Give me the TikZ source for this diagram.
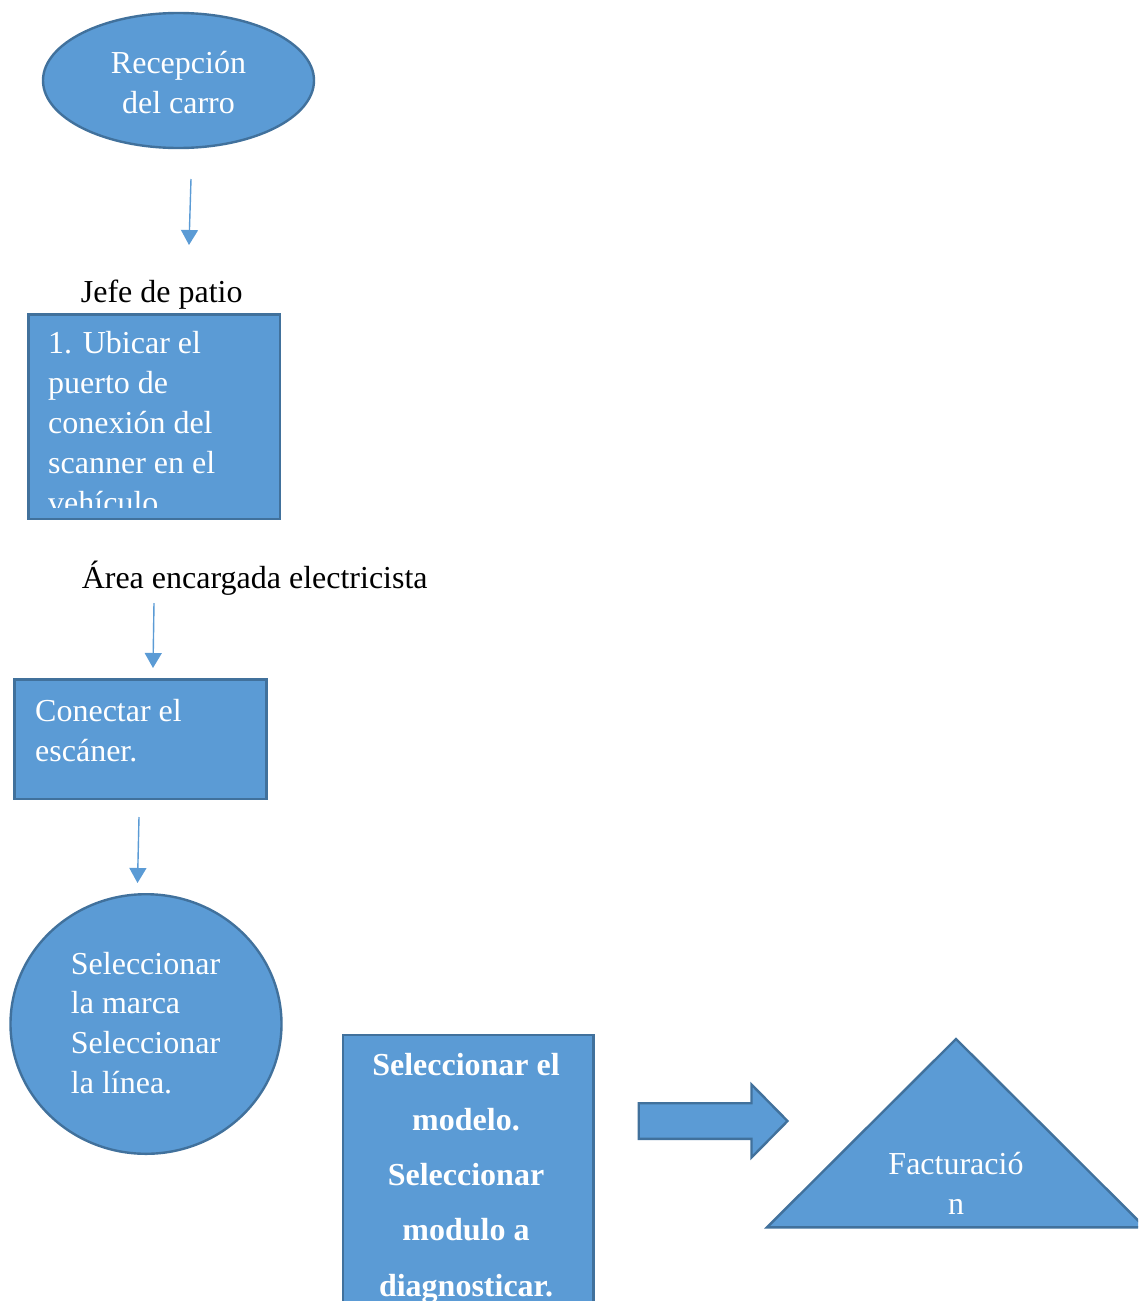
\documentclass[tikz,border=0pt]{standalone}
\usepackage{fontspec}
\setmainfont{Liberation Serif}
\usetikzlibrary{shapes.geometric,arrows.meta}
\definecolor{flowfill}{HTML}{5B9BD5}
\definecolor{flowline}{HTML}{41719C}
% stacked lines: the block's baseline is the baseline of its first line
\newcommand\linesleft[1]{\vtop{\halign{##\hfil\cr #1\crcr}}}
\newcommand\linescenter[1]{\vtop{\halign{\hfil##\hfil\cr #1\crcr}}}
\begin{document}
\begin{tikzpicture}[x=1pt,y=-1pt,
  shapestyle/.style={fill=flowfill,draw=flowline,line width=2.4pt,inner sep=0pt},
  whitetext/.style={text=white,inner sep=0pt,font=\fontsize{32}{40}\selectfont},
  blacktext/.style={text=black,inner sep=0pt,font=\fontsize{32}{40}\selectfont},
  boldtext/.style={text=white,inner sep=0pt,font=\fontsize{32}{55.25}\selectfont\bfseries},
  flowarrow/.style={draw=flowfill,line width=1.4pt,-{Triangle[width=17pt,length=15pt]}}]

\useasboundingbox (0,0) rectangle (1138,1301);
\clip (0,0) rectangle (1138,1301);

% reception
\node[shapestyle,ellipse,minimum width=271pt,minimum height=135pt] (recepcion) at (178.5,80.5) {};
\node[whitetext,anchor=base] (recepciontxt) at (178.5,73.5) {\linescenter{Recepción\cr del carro}};

% arrow to the yard manager
\coordinate (a1s) at (191,179);
\coordinate (a1e) at (189,245);
\draw[flowarrow] (a1s) -- (a1e);

\node[blacktext,anchor=base] (jefe) at (161.7,302) {Jefe de patio};

% step 1
\node[shapestyle,rectangle,anchor=north west,minimum width=251.6pt,minimum height=204.6pt] (ubicar) at (27.2,313.2) {};
\begin{scope}
  \clip (28.5,314.5) rectangle (277.5,507);
  \node[whitetext,anchor=base west] (ubicartxt) at (48,353)
    {\linesleft{1. Ubicar el\cr puerto de\cr conexión del\cr scanner en el\cr vehículo.}};
\end{scope}

\node[blacktext,anchor=base] (area) at (254.7,588.5) {Área encargada electricista};

\coordinate (a2s) at (154,603);
\coordinate (a2e) at (153,668);
\draw[flowarrow] (a2s) -- (a2e);

% connect the scanner
\node[shapestyle,rectangle,minimum width=252pt,minimum height=119.3pt] (conectar) at (140.5,739.1) {};
\node[whitetext,anchor=base west] (conectartxt) at (35,721) {\linesleft{Conectar el\cr escáner.}};

\coordinate (a3s) at (139,817);
\coordinate (a3e) at (137.5,883);
\draw[flowarrow] (a3s) -- (a3e);

% brand and line
\node[shapestyle,ellipse,minimum width=271pt,minimum height=259.6pt] (marca) at (146,1024) {};
\node[whitetext,anchor=base west,font=\fontsize{32}{39.7}\selectfont] (marcatxt) at (70.7,974)
  {\linesleft{Seleccionar\cr la marca\cr Seleccionar\cr la línea.}};

% model and module
\node[shapestyle,rectangle,anchor=north west,minimum width=250.6pt,minimum height=320pt] (modelo) at (341.5,1033.5) {};
\node[boldtext,anchor=base] (modelotxt) at (466,1075)
  {\linescenter{Seleccionar el\cr modelo.\cr Seleccionar\cr modulo a\cr diagnosticar.}};

% block arrow
\draw[shapestyle,line join=miter]
  (638.7,1103.2) -- (751.5,1103.2) -- (751.5,1084.5) -- (787.5,1121)
  -- (751.5,1157.5) -- (751.5,1138.8) -- (638.7,1138.8) -- cycle;

% billing
\draw[shapestyle,line join=miter] (956,1039) -- (1145,1227.3) -- (767,1227.3) -- cycle;
\node[whitetext,anchor=base] (facturaciontxt) at (956,1174.5) {\linescenter{Facturació\cr n}};

\end{tikzpicture}
\end{document}
